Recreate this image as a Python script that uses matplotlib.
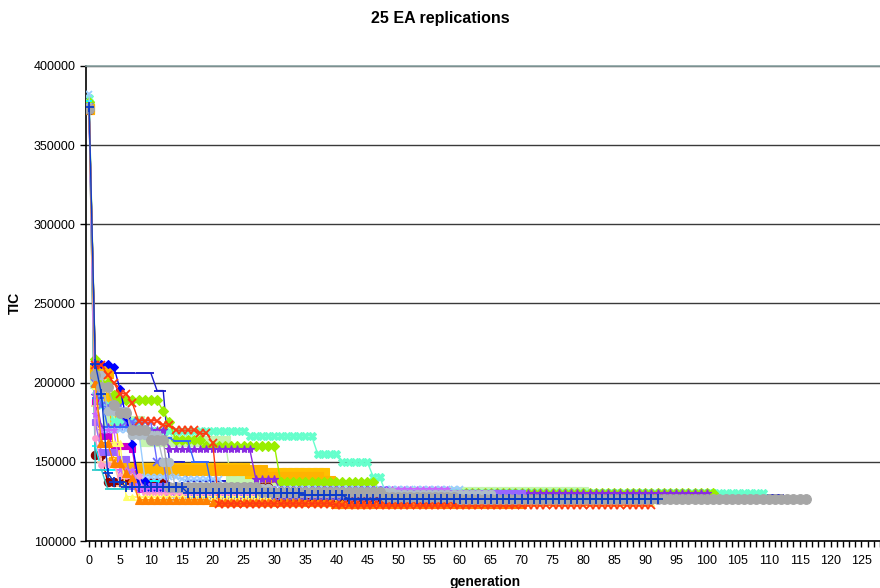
import numpy as np
import matplotlib.pyplot as plt
from matplotlib.ticker import MultipleLocator, FuncFormatter

plt.rcParams['font.family'] = ['Liberation Sans', 'DejaVu Sans']

# -----------------------
# Data: best TIC per generation for 25 EA runs.
# Each run: generations where the best value changes (gen_xx) and the
# value from that generation on (tic_xx), plus its last generation.
# -----------------------
gen_01 = [0, 1, 4, 11, 13, 16, 30, 45]
tic_01 = [374000, 212000, 206000, 195000, 150000, 138000, 131000, 129000]
gen_02 = [0, 1, 3, 9, 23, 36, 45]
tic_02 = [375000, 200000, 176000, 163000, 138500, 134000, 131000]
gen_03 = [0, 1, 3, 5, 6, 26, 39, 40]
tic_03 = [373000, 208000, 190000, 150000, 146000, 143000, 137000, 124000]
gen_04 = [0, 1, 4, 6, 29, 38, 40]
tic_04 = [373000, 206000, 150000, 145000, 140400, 138000, 124500]
gen_05 = [0, 1, 2, 4, 9, 26, 37, 41, 46, 48, 60]
tic_05 = [380000, 205000, 186000, 176000, 169500, 166500, 155000, 150000, 140500, 131000, 130000]
gen_06 = [0, 1, 2, 4, 5, 12, 13, 14, 19, 31, 47, 50]
tic_06 = [377000, 215000, 200000, 192000, 189000, 182000, 175000, 164000, 160000, 137500, 131000, 130300]
gen_07 = [0, 1, 2, 8, 13, 27, 31, 50]
tic_07 = [372000, 192000, 172000, 170000, 158000, 139000, 132000, 130000]
gen_08 = [0, 1, 2, 4, 7, 8, 20]
tic_08 = [372000, 188000, 166000, 160000, 158000, 133000, 129000]
gen_09 = [0, 1, 3, 13, 30]
tic_09 = [372000, 154000, 137300, 134000, 128000]
gen_10 = [0, 1, 2, 8, 12, 25]
tic_10 = [378000, 160000, 145000, 138000, 133000, 130000]
gen_11 = [0, 1, 2, 5, 8]
tic_11 = [371000, 185000, 150000, 135000, 128000]
gen_12 = [0, 1, 3, 9, 15, 22]
tic_12 = [382000, 195000, 170000, 140400, 139000, 133000]
gen_13 = [0, 1, 3, 10]
tic_13 = [376000, 145000, 133000, 131000]
gen_14 = [0, 1, 2, 5, 7, 15]
tic_14 = [373000, 175000, 156000, 152000, 135000, 130000]
gen_15 = [0, 1, 2, 6, 11, 13]
tic_15 = [374000, 200000, 185000, 175000, 150000, 128000]
gen_16 = [0, 1, 4, 5, 6, 7, 8, 10]
tic_16 = [372000, 212000, 210000, 196000, 178000, 161000, 138000, 132000]
gen_17 = [0, 1, 3, 10, 14, 17, 20]
tic_17 = [375000, 190000, 172000, 165000, 163000, 150000, 131000]
gen_18 = [0, 1, 2, 5, 9]
tic_18 = [373000, 165000, 148000, 141000, 130000]
gen_19 = [0, 1, 2, 5, 8]
tic_19 = [374000, 180000, 170000, 145000, 133000]
gen_20 = [0, 1, 3, 7, 12, 14, 30, 50]
tic_20 = [374000, 205000, 182000, 167000, 150000, 133500, 131000, 129500]
gen_21 = [0, 1, 2, 6, 30]
tic_21 = [373000, 198000, 162000, 128000, 124000]
gen_22 = [0, 1, 2, 4, 6, 7, 8, 20, 40]
tic_22 = [374000, 200000, 162000, 149000, 143000, 140000, 126000, 124500, 123500]
gen_23 = [0, 1, 3, 4, 5, 7, 8, 12, 14, 18, 20, 21, 40]
tic_23 = [373000, 211000, 205000, 200000, 193000, 187000, 176000, 173000, 170000, 168000, 162000, 123500, 122700]
gen_24 = [0, 1, 2, 4, 5, 7, 10, 13, 28, 48, 60]
tic_24 = [373000, 205000, 197000, 186000, 181000, 170000, 164000, 134000, 131000, 128000, 126500]
gen_25 = [0, 1, 2, 3, 4, 6, 16, 35, 42]
tic_25 = [374000, 212000, 193000, 143000, 137500, 134000, 130300, 129000, 126500]

last_gen = [112, 80, 45, 50, 109, 101, 100, 50, 60, 55, 40, 60, 45,
            70, 64, 48, 40, 35, 58, 65, 91, 70, 91, 116, 92]

gens = [gen_01, gen_02, gen_03, gen_04, gen_05, gen_06, gen_07, gen_08, gen_09,
        gen_10, gen_11, gen_12, gen_13, gen_14, gen_15, gen_16, gen_17, gen_18,
        gen_19, gen_20, gen_21, gen_22, gen_23, gen_24, gen_25]
tics = [tic_01, tic_02, tic_03, tic_04, tic_05, tic_06, tic_07, tic_08, tic_09,
        tic_10, tic_11, tic_12, tic_13, tic_14, tic_15, tic_16, tic_17, tic_18,
        tic_19, tic_20, tic_21, tic_22, tic_23, tic_24, tic_25]

# -----------------------
# Styles (Excel-like series colours and markers)
# -----------------------
colors = ['#1a1acc', '#c4f5b0', '#ffc000', '#ffb300', '#66ffcc', '#99ee00',
          '#8a2be2', '#cc00cc', '#8b0000', '#00ffff', '#ffcc99', '#99ccff',
          '#33cccc', '#9966ff', '#6a6aff', '#0000ff', '#3366ff', '#ff99cc',
          '#cc66ff', '#b0bcc8', '#ffff66', '#ff8000', '#ff3a10', '#a6a6a6',
          '#0a3acc']
markers = ['_', 's', 's', 's', 'X', 'D', '*', 's', 'o', '_', '+', 'x',
           '_', 's', 'x', 'D', '_', 'o', '*', 'o', '^', '^', 'x', 'o', '+']
msizes = [5, 7, 7, 7, 6, 5, 6, 5, 6, 5, 6, 5, 5, 5, 6, 4, 5, 4, 5, 6, 5, 6, 6, 7, 7]


def expand(g_list, t_list, last):
    vals = np.empty(last + 1)
    for i, (g, v) in enumerate(zip(g_list, t_list)):
        stop = g_list[i + 1] if i + 1 < len(g_list) else last + 1
        vals[g:stop] = v
    return vals


# -----------------------
# Plot
# -----------------------
fig = plt.figure(figsize=(8.8, 5.88), dpi=100)
ax = fig.add_axes([86 / 880, 47 / 588, 794 / 880, 475 / 588])

for k in range(len(gens)):
    y = expand(gens[k], tics[k], last_gen[k])
    x = np.arange(len(y))
    mew = 1.3 if markers[k] in ('x', '+', '_') else 0.8
    ax.plot(x, y, color=colors[k], lw=1.0, marker=markers[k],
            markersize=msizes[k], markeredgecolor=colors[k],
            markerfacecolor=colors[k], markeredgewidth=mew, zorder=3 + k * 0.01)

ax.set_xlim(-0.5, 128)
ax.set_ylim(100000, 400000)
ax.xaxis.set_major_locator(MultipleLocator(5))
ax.xaxis.set_minor_locator(MultipleLocator(1))
ax.yaxis.set_major_locator(MultipleLocator(50000))
ax.yaxis.set_major_formatter(FuncFormatter(lambda v, p: f"{int(v)}"))
ax.tick_params(axis='both', which='both', direction='out', length=4,
               width=1.0, color='black', labelsize=9)
ax.tick_params(axis='x', which='major', pad=6)

ax.yaxis.grid(True, color='#3a3a3a', lw=1.0)
ax.set_axisbelow(True)
for side in ('left', 'bottom'):
    ax.spines[side].set_color('black')
    ax.spines[side].set_linewidth(1.2)
ax.spines['right'].set_visible(False)
ax.spines['top'].set_color('#8aa2a2')
ax.spines['top'].set_linewidth(1.2)

fig.text(0.5, 1 - 18 / 588, '25 EA replications', ha='center', va='center',
         fontsize=11.5, fontweight='bold')
fig.text(15 / 880, 1 - 303 / 588, 'TIC', ha='center', va='center',
         rotation=90, fontsize=10, fontweight='bold')
fig.text(485 / 880, 1 - 582 / 588, 'generation', ha='center', va='center',
         fontsize=10, fontweight='bold')

fig.savefig('out.png', dpi=100)
